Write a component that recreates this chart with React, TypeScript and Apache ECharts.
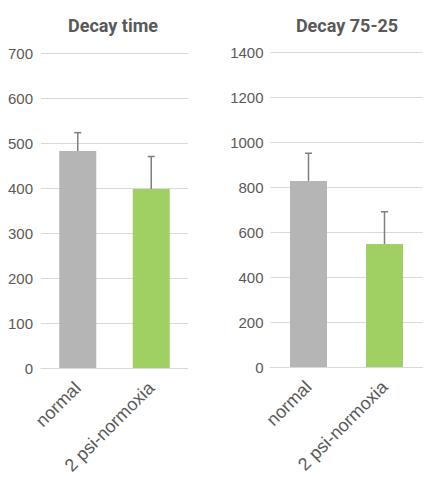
import React, { useEffect, useRef } from "react";
import * as echarts from "echarts";

const categories = ["normal", "2 psi-normoxia"];
const titles = ["Decay time", "Decay 75-25"];
const decayTimeMeans = [482, 398];
const decayTimeErrors = [41, 72];
const decay7525Means = [827, 547];
const decay7525Errors = [123, 143];
const barColors = ["#b4b5b4", "#a0cf63"];

const TEXT = "#595959";
const GRID = "#d9d9d9";

function errorSeries(gridIndex: number, means: number[], errs: number[]) {
  return {
    type: "custom",
    xAxisIndex: gridIndex,
    yAxisIndex: gridIndex,
    z: 5,
    data: means.map((m, i) => [i, m, m + errs[i]]),
    renderItem: (params: any, api: any) => {
      const base = api.coord([api.value(0), api.value(1)]);
      const top = api.coord([api.value(0), api.value(2)]);
      const style = { stroke: "#7f7f7f", lineWidth: 1.5 };
      return {
        type: "group",
        children: [
          { type: "line", shape: { x1: base[0], y1: base[1], x2: top[0], y2: top[1] }, style },
          { type: "line", shape: { x1: top[0] - 3.5, y1: top[1], x2: top[0] + 3.5, y2: top[1] }, style },
        ],
      };
    },
  };
}

export default function App() {
  const ref = useRef<HTMLDivElement>(null);
  useEffect(() => {
    if (!ref.current) return;
    const chart = echarts.init(ref.current, null, { renderer: "svg" });
    const axisLabelY = {
      color: TEXT,
      fontSize: 15,
      fontFamily: "Liberation Sans",
      formatter: (v: number) => String(v),
    };
    const xAxisCommon = {
      type: "category",
      data: categories,
      axisLine: { lineStyle: { color: GRID, width: 1 } },
      axisTick: { show: false },
      axisLabel: { color: TEXT, fontSize: 18, fontFamily: "Liberation Sans", rotate: 45, margin: 17, interval: 0 },
    };
    const yAxisCommon = {
      type: "value",
      axisLine: { show: false },
      axisTick: { show: false },
      splitLine: { lineStyle: { color: GRID, width: 1 } },
    };
    const titleStyle = { color: TEXT, fontSize: 18, fontWeight: "bold", fontFamily: "Roboto" };
    chart.setOption({
      animation: false,
      title: [
        { text: titles[0], left: 108, top: 11, textAlign: "center", textStyle: titleStyle },
        { text: titles[1], left: 342, top: 11, textAlign: "center", textStyle: titleStyle },
      ],
      grid: [
        { left: 41, width: 147, top: 53, height: 315 },
        { left: 270.5, width: 152, top: 52, height: 315 },
      ],
      xAxis: [
        { ...xAxisCommon, gridIndex: 0 },
        { ...xAxisCommon, gridIndex: 1 },
      ],
      yAxis: [
        { ...yAxisCommon, gridIndex: 0, min: 0, max: 700, interval: 100, axisLabel: { ...axisLabelY, margin: 8 } },
        { ...yAxisCommon, gridIndex: 1, min: 0, max: 1400, interval: 200, axisLabel: { ...axisLabelY, margin: 7 } },
      ],
      series: [
        {
          type: "bar",
          xAxisIndex: 0,
          yAxisIndex: 0,
          barWidth: 37,
          data: decayTimeMeans.map((v, i) => ({ value: v, itemStyle: { color: barColors[i] } })),
        },
        errorSeries(0, decayTimeMeans, decayTimeErrors),
        {
          type: "bar",
          xAxisIndex: 1,
          yAxisIndex: 1,
          barWidth: 37,
          data: decay7525Means.map((v, i) => ({ value: v, itemStyle: { color: barColors[i] } })),
        },
        errorSeries(1, decay7525Means, decay7525Errors),
      ],
    });
    return () => chart.dispose();
  }, []);
  return (
    <div
      ref={ref}
      style={{ position: "fixed", left: 0, top: 0, width: 428, height: 477, background: "#ffffff" }}
    />
  );
}
